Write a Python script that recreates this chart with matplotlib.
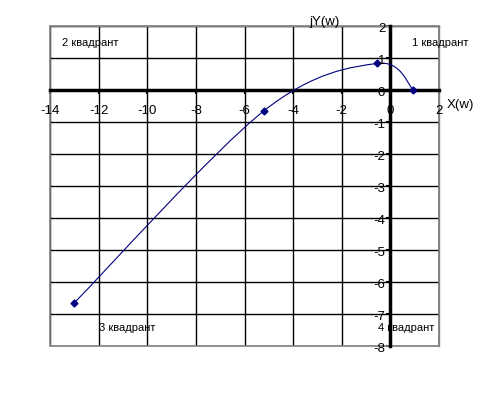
import matplotlib
matplotlib.use("Agg")
import matplotlib.pyplot as plt
from matplotlib.path import Path
from matplotlib.patches import PathPatch, Rectangle
from matplotlib.transforms import offset_copy
import numpy as np

plt.rcParams['font.family'] = ['Liberation Sans', 'DejaVu Sans']

# data
x_vals = [-13.0, -5.2, -0.55, 0.95]
y_vals = [-6.65, -0.65, 0.83, 0.0]
x_ticks = [-14, -12, -10, -8, -6, -4, -2, 0, 2]
y_ticks = [-8, -7, -6, -5, -4, -3, -2, -1, 0, 1, 2]
quadrants = [("2 квадрант", -13.5, 1.47), ("1 квадрант", 0.9, 1.47),
             ("3 квадрант", -12.0, -7.44), ("4 квадрант", -0.5, -7.44)]

fig = plt.figure(figsize=(5.01, 3.97), dpi=100)
ax = fig.add_axes([50/501, 51/397, 389/501, 320/397])
ax.set_xlim(-14, 2)
ax.set_ylim(-8, 2)
ax.set_xticks(x_ticks)
ax.set_yticks(y_ticks)
ax.grid(True, color='black', lw=1)
ax.set_axisbelow(True)

for s in ['top', 'right']:
    ax.spines[s].set_color('#808080')
    ax.spines[s].set_linewidth(1)
ax.spines['left'].set_position(('data', 0))
ax.spines['bottom'].set_position(('data', 0))
ax.spines['left'].set_linewidth(2.5)
ax.spines['bottom'].set_linewidth(2.5)
ax.spines['left'].set_zorder(3)
ax.spines['bottom'].set_zorder(3)
ax.add_patch(Rectangle((0, 0), 1, 1, transform=ax.transAxes, fill=False,
                       edgecolor='#808080', lw=1.2, clip_on=False, zorder=2))

ax.tick_params(axis='both', direction='out', length=3, width=1.5,
               labelbottom=False, labelleft=False)

fs = 9.5
tx = offset_copy(ax.transData, fig=fig, x=0, y=-20, units='dots')
for t in x_ticks:
    ax.text(t, 0, str(t), transform=tx, ha='center', va='center_baseline', fontsize=fs, zorder=7)
ty = offset_copy(ax.transData, fig=fig, x=-5, y=-2, units='dots')
for t in y_ticks:
    ax.text(0, t, str(t), transform=ty, ha='right', va='center_baseline', fontsize=fs, zorder=7)

# smoothed line (Catmull-Rom style Bezier, like spreadsheet smoothing)
P = np.column_stack([x_vals, y_vals])
n = len(P)
verts = [tuple(P[0])]
codes = [Path.MOVETO]
for i in range(n - 1):
    p0 = P[i - 1] if i > 0 else P[i]
    p1 = P[i]
    p2 = P[i + 1]
    p3 = P[i + 2] if i + 2 < n else P[i + 1]
    c1 = p1 + (p2 - p0) / 6
    c2 = p2 - (p3 - p1) / 6
    verts += [tuple(c1), tuple(c2), tuple(p2)]
    codes += [Path.CURVE4] * 3
ax.add_patch(PathPatch(Path(verts, codes), fill=False, edgecolor='#000080', lw=0.8, zorder=4))
ax.plot(x_vals, y_vals, linestyle='none', marker='D', markersize=3.5,
        color='#000080', zorder=5)

for txt, xx, yy in quadrants:
    ax.text(xx, yy, txt, fontsize=8, va='center', ha='left', zorder=6)

ax.text(-2.7, 2.13, "jY(w)", fontsize=fs, ha='center', va='center', clip_on=False)
ax.text(2.87, -0.47, "X(w)", fontsize=fs, ha='center', va='center', clip_on=False)

fig.savefig("out.png", dpi=100)
